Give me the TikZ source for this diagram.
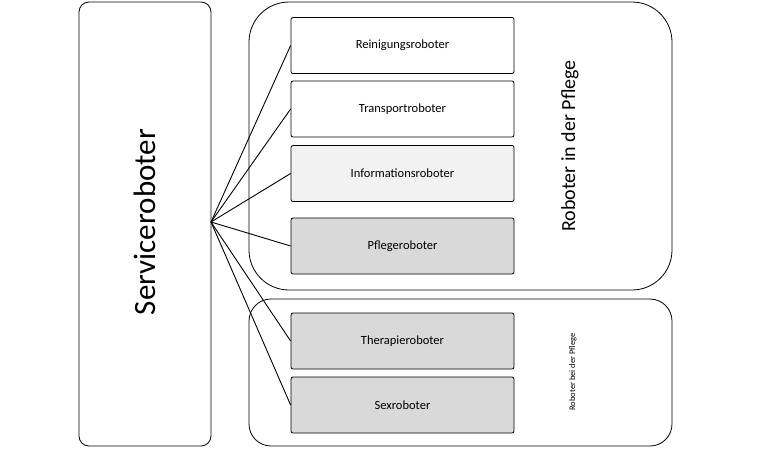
\documentclass[tikz,border=0pt]{standalone}
\usepackage{fontspec}
\setmainfont{Carlito}
\begin{document}
\begin{tikzpicture}[x=1pt,y=-1pt,
 item/.style={draw,line width=0.8pt,minimum width=223pt,minimum height=56pt,font=\fontsize{12.5}{14}\selectfont,rounded corners=2pt},
 grp/.style={draw,line width=0.8pt,rounded corners=22pt},
 conn/.style={line width=0.9pt}]
\useasboundingbox (0,0) rectangle (760,451);
\node[draw,line width=0.8pt,rounded corners=10pt,minimum width=132pt,minimum height=444pt] (s) at (145,224) {};
\node[rotate=90,font=\fontsize{31}{34}\selectfont] (st) at (145,222) {Serviceroboter};
\node[grp,minimum width=423pt,minimum height=288pt,rounded corners=40pt] (g1) at (460.5,146) {};
\node[grp,minimum width=423pt,minimum height=147pt] (g2) at (460.5,372.5) {};
\node[rotate=90,font=\fontsize{20}{24}\selectfont] (l1) at (570,146) {Roboter in der Pflege};
\node[rotate=90,font=\fontsize{8.5}{10}\selectfont] (l2) at (573,372) {Roboter bei der Pflege};
\node[item,fill=white] (a) at (402.5,45.5) {Reinigungsroboter};
\node[item,fill=white] (b) at (402.5,109) {Transportroboter};
\node[item,fill=black!5] (c) at (402.5,173.5) {Informationsroboter};
\node[item,fill=black!15] (d) at (402.5,246) {Pflegeroboter};
\node[item,fill=black!15] (e) at (402.5,341) {Therapieroboter};
\node[item,fill=black!15] (f) at (402.5,405) {Sexroboter};
\coordinate (h) at (211,222);
\foreach \n in {a,b,c,d,e,f} \draw[conn] (h) -- (\n.west);
\end{tikzpicture}
\end{document}
